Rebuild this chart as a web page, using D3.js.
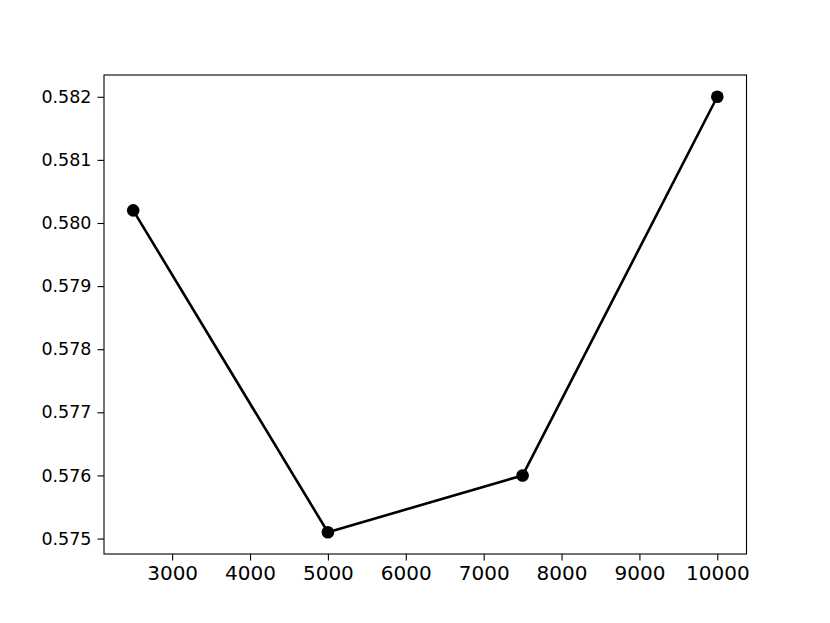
<!DOCTYPE html>
<html><head><meta charset="utf-8">
<script src="https://cdn.jsdelivr.net/npm/d3@7"></script>
<style>body{margin:0;background:#fff}svg{display:block}</style>
</head><body>
<script>
const xValues = [2500, 5000, 7500, 10000];
const yValues = [0.5802, 0.5751, 0.5760, 0.5820];
const xTicks = [3000, 4000, 5000, 6000, 7000, 8000, 9000, 10000];
const yTicks = [0.575, 0.576, 0.577, 0.578, 0.579, 0.580, 0.581, 0.582];

const W = 830, H = 623;
const L = 104, R = 746.5, T = 75, B = 554;
const svg = d3.select("body").append("svg").attr("width", W).attr("height", H);

const xr = xValues[xValues.length-1] - xValues[0];
const ymin = d3.min(yValues), ymax = d3.max(yValues), yr = ymax - ymin;
const x = d3.scaleLinear().domain([xValues[0] - 0.05*xr, xValues[xValues.length-1] + 0.05*xr]).range([L, R]);
const y = d3.scaleLinear().domain([ymin - 0.05*yr, ymax + 0.05*yr]).range([B, T]);

const xAxis = svg.append("g").attr("transform", `translate(0,${B})`)
  .call(d3.axisBottom(x).tickValues(xTicks).tickFormat(d3.format("d")).tickSizeOuter(0).tickSize(6.5).tickPadding(5));
xAxis.selectAll("text").style("font-family","DejaVu Sans").style("font-size","20px").attr("fill","#000");
const yAxis = svg.append("g").attr("transform", `translate(${L},0)`)
  .call(d3.axisLeft(y).tickValues(yTicks).tickFormat(d3.format(".3f")).tickSizeOuter(0).tickSize(6.5).tickPadding(6));
yAxis.selectAll("text").style("font-family","DejaVu Sans").style("font-size","17.5px").attr("fill","#000");
svg.selectAll(".domain").remove();
svg.selectAll(".tick line").attr("stroke","#000").attr("stroke-width",1.1);

svg.append("rect").attr("x", L).attr("y", T).attr("width", R-L).attr("height", B-T)
  .attr("fill","none").attr("stroke","#000").attr("stroke-width",1.1);

const data = xValues.map((v,i)=>({x:v,y:yValues[i]}));
svg.append("path").datum(data)
  .attr("d", d3.line().x(d=>x(d.x)).y(d=>y(d.y)))
  .attr("fill","none").attr("stroke","#000").attr("stroke-width",2.6).attr("stroke-linejoin","round");
svg.selectAll("circle.pt").data(data).enter().append("circle")
  .attr("cx", d=>x(d.x)).attr("cy", d=>y(d.y)).attr("r", 6.3).attr("fill","#000");
</script>
</body></html>
